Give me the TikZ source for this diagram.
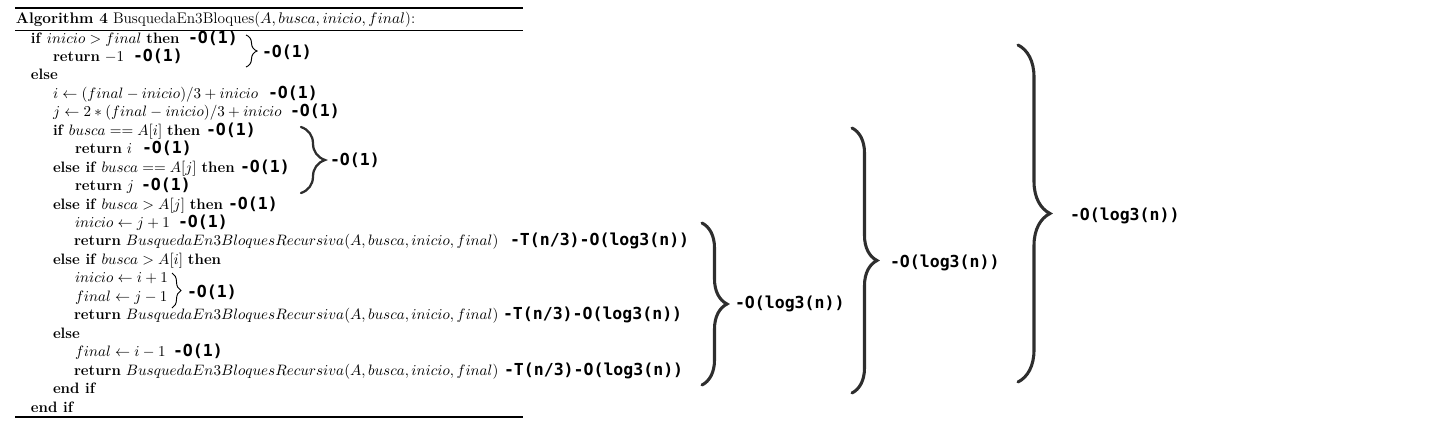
\RequirePackage{fix-cm}
\documentclass[tikz,border=0pt]{standalone}
\usepackage{fontspec}
\usetikzlibrary{decorations.pathreplacing}
\newfontfamily\codefont{DejaVu Sans Mono}
\begin{document}
\begin{tikzpicture}[x=0.75pt,y=-0.75pt,
  alg/.style={anchor=base west,inner sep=0pt,outer sep=0pt,font=\fontsize{11.3}{14}\selectfont},
  capstyle/.style={anchor=base west,inner sep=0pt,outer sep=0pt,font=\fontsize{11.5}{14}\selectfont},
  cost/.style={anchor=base west,inner sep=0pt,outer sep=0pt,font=\codefont\bfseries\fontsize{12.4}{15}\selectfont},
  bigbrace/.style={decorate,decoration={brace,amplitude=#1*0.75pt},line width=2.3pt,draw=black!82,line cap=round},
  smallbrace/.style={decorate,decoration={brace,amplitude=#1*0.75pt},line width=0.7pt,draw=black},
  rulethick/.style={line width=1.2pt},
  rulethin/.style={line width=0.6pt}]
\useasboundingbox (0,0) rectangle (1453,429);
% rules
\coordinate (r1a) at (15,8);   \coordinate (r1b) at (523,8);
\coordinate (r2a) at (15,30);  \coordinate (r2b) at (523,30);
\coordinate (r3a) at (15,417); \coordinate (r3b) at (523,417);
\draw[rulethick] (r1a) -- (r1b);
\draw[rulethin] (r2a) -- (r2b);
\draw[rulethick] (r3a) -- (r3b);
% caption
\node[capstyle] (cap) at (16,23) {\textbf{Algorithm 4} BusquedaEn3Bloques($A, busca, inicio, final$):};
% lines
\node[alg] (l1) at (31,43.0) {\textbf{if} $inicio > final$ \textbf{then}};
\node[alg] (l2) at (53,61.45) {\textbf{return} $-1$};
\node[alg] (l3) at (31,79.9) {\textbf{else}};
\node[alg] (l4) at (53,98.35) {$i \gets (final - inicio)/3 + inicio$};
\node[alg] (l5) at (53,116.8) {$j \gets 2*(final - inicio)/3 + inicio$};
\node[alg] (l6) at (53,135.25) {\textbf{if} $busca == A[i]$ \textbf{then}};
\node[alg] (l7) at (75,153.7) {\textbf{return} $i$};
\node[alg] (l8) at (53,172.15) {\textbf{else if} $busca == A[j]$ \textbf{then}};
\node[alg] (l9) at (75,190.6) {\textbf{return} $j$};
\node[alg] (l10) at (53,209.05) {\textbf{else if} $busca > A[j]$ \textbf{then}};
\node[alg] (l11) at (75,227.5) {$inicio \gets j + 1$};
\node[alg] (l12) at (74,245.95) {\textbf{return} $BusquedaEn3BloquesRecursiva(A, busca, inicio, final)$};
\node[alg] (l13) at (53,264.4) {\textbf{else if} $busca > A[i]$ \textbf{then}};
\node[alg] (l14) at (75,282.85) {$inicio \gets i + 1$};
\node[alg] (l15) at (75,301.3) {$final \gets j - 1$};
\node[alg] (l16) at (74,319.75) {\textbf{return} $BusquedaEn3BloquesRecursiva(A, busca, inicio, final)$};
\node[alg] (l17) at (53,338.2) {\textbf{else}};
\node[alg] (l18) at (75,356.65) {$final \gets i - 1$};
\node[alg] (l19) at (74,375.1) {\textbf{return} $BusquedaEn3BloquesRecursiva(A, busca, inicio, final)$};
\node[alg] (l20) at (53,393.55) {\textbf{end if}};
\node[alg] (l21) at (31,412.0) {\textbf{end if}};
% costs
\node[cost] (c1) at (188,43.0) {-O(1)};
\node[cost] (c2) at (133,61.45) {-O(1)};
\node[cost] (c4) at (268,98.35) {-O(1)};
\node[cost] (c5) at (290,116.8) {-O(1)};
\node[cost] (c6) at (206,135.25) {-O(1)};
\node[cost] (c7) at (142,153.7) {-O(1)};
\node[cost] (c8) at (240,172.15) {-O(1)};
\node[cost] (c9) at (141,190.6) {-O(1)};
\node[cost] (c10) at (228,209.05) {-O(1)};
\node[cost] (c11) at (178,227.5) {-O(1)};
\node[cost] (c12) at (510,245.95) {-T(n/3)-O(log3(n))};
\node[cost] (c16) at (503,319.75) {-T(n/3)-O(log3(n))};
\node[cost] (c18) at (173,356.65) {-O(1)};
\node[cost] (c19) at (504,375.1) {-T(n/3)-O(log3(n))};
% braces
\coordinate (b1t) at (246,35); \coordinate (b1b) at (246,67);
\draw[smallbrace=11] (b1t) -- (b1b);
\node[cost] (g1) at (262,57) {-O(1)};
\coordinate (b2t) at (301,127); \coordinate (b2b) at (301,193);
\draw[bigbrace=24,line width=1.7pt] (b2t) -- (b2b);
\node[cost] (g2) at (330,165) {-O(1)};
\coordinate (b6t) at (172,273); \coordinate (b6b) at (172,308);
\draw[smallbrace=9] (b6t) -- (b6b);
\node[cost] (g6) at (187,297) {-O(1)};
\coordinate (b3t) at (702,223); \coordinate (b3b) at (702,385);
\draw[bigbrace=25] (b3t) -- (b3b);
\node[cost] (g3) at (735,308) {-O(log3(n))};
\coordinate (b4t) at (852,128); \coordinate (b4b) at (852,393);
\draw[bigbrace=25] (b4t) -- (b4b);
\node[cost] (g4) at (890,267) {-O(log3(n))};
\coordinate (b5t) at (1018,45); \coordinate (b5b) at (1018,382);
\draw[bigbrace=32] (b5t) -- (b5b);
\node[cost] (g5) at (1070,220) {-O(log3(n))};
\end{tikzpicture}
\end{document}
